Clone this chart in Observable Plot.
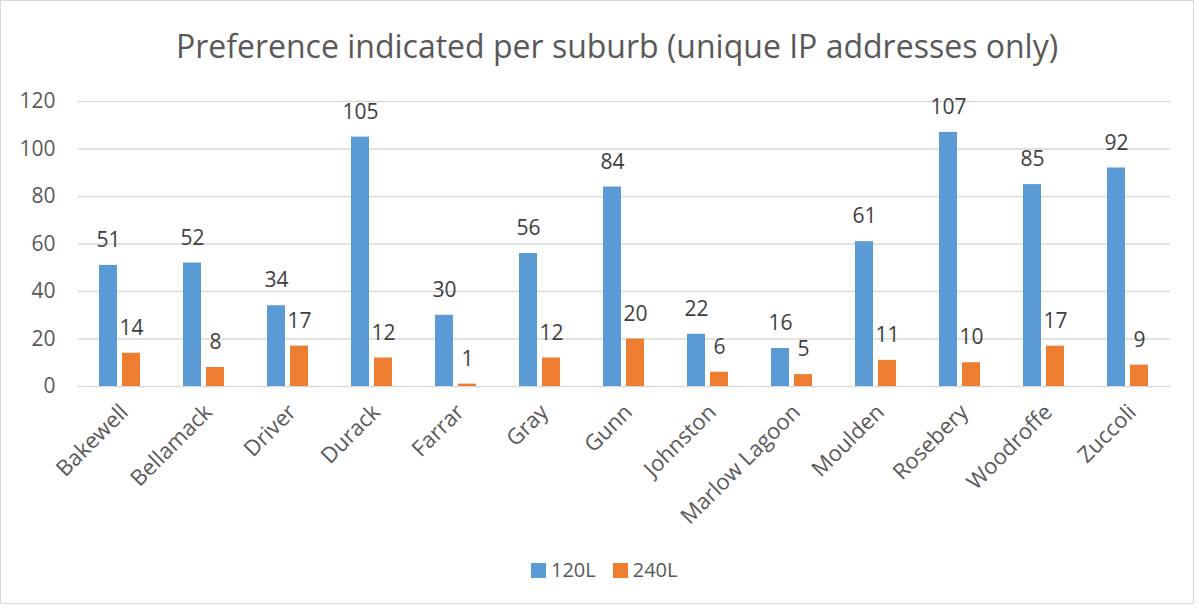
<!DOCTYPE html>
<html><head><meta charset="utf-8">
<script src="https://cdn.jsdelivr.net/npm/d3@7"></script>
<script src="https://cdn.jsdelivr.net/npm/@observablehq/plot@0.6"></script>
<style>
body{margin:0;background:#fff;font-family:"Open Sans",sans-serif;}
#wrap{position:relative;width:1199px;height:608px;overflow:hidden;}
#frame{position:absolute;left:0;top:0;width:1194px;height:604px;border:1px solid #d9d9d9;box-sizing:border-box;}
#title{position:absolute;left:0;width:1234px;top:30px;line-height:32px;text-align:center;font-size:32px;color:#595959;white-space:nowrap;}
#chart{position:absolute;left:0;top:0;}
#legend{position:absolute;top:558px;left:531px;display:flex;align-items:center;font-size:20px;color:#595959;line-height:24px;}
#legend .sw{display:inline-block;width:15px;height:15px;margin-right:5px;}
#legend .it{display:flex;align-items:center;margin-right:17px;}
</style></head>
<body>
<div id="wrap">
  <div id="frame"></div>
  <div id="chart"></div>
  <div id="title">Preference indicated per suburb (unique IP addresses only)</div>
  <div id="legend"></div>
</div>
<script>
const suburbs = ["Bakewell","Bellamack","Driver","Durack","Farrar","Gray","Gunn","Johnston","Marlow Lagoon","Moulden","Rosebery","Woodroffe","Zuccoli"];
const series = ["120L","240L"];
const colors = ["#5B9BD5","#ED7D31"];
const values120 = [51,52,34,105,30,56,84,22,16,61,107,85,92];
const values240 = [14,8,17,12,1,12,20,6,5,11,10,17,9];
const yTicks = [0,20,40,60,80,100,120];

const data = [];
suburbs.forEach((s,i)=>{
  data.push({suburb:s, series:series[0], value:values120[i]});
  data.push({suburb:s, series:series[1], value:values240[i]});
});

const chart = Plot.plot({
  width:1199, height:608,
  marginLeft:76, marginRight:28, marginTop:101, marginBottom:222,
  style:{fontFamily:"Open Sans", fontSize:"21px", color:"#595959", background:"transparent", overflow:"visible"},
  fx:{domain:suburbs, padding:0, axis:null},
  x:{domain:series, paddingInner:0.208, paddingOuter:0.858, axis:null},
  y:{domain:[0,120], ticks:yTicks, tickSize:0, tickPadding:23, label:null},
  color:{domain:series, range:colors},
  marks:[
    Plot.gridY(yTicks,{stroke:"#d9d9d9", strokeOpacity:1, strokeWidth:1.3}),
    Plot.axisFx({anchor:"bottom", tickRotate:-45, tickSize:0, tickPadding:22, fontSize:22, dx:4, label:null}),
    Plot.barY(data,{fx:"suburb", x:"series", y:"value", fill:"series"}),
    Plot.text(data,{fx:"suburb", x:"series", y:"value", text:d=>String(d.value), dy:-25, fill:"#404040", fontSize:21})
  ]
});
document.getElementById("chart").appendChild(chart);

const lg = document.getElementById("legend");
series.forEach((s,i)=>{
  const it = document.createElement("span"); it.className="it";
  const sw = document.createElement("span"); sw.className="sw"; sw.style.background=colors[i];
  it.appendChild(sw); it.appendChild(document.createTextNode(s));
  lg.appendChild(it);
});
</script>
</body></html>
